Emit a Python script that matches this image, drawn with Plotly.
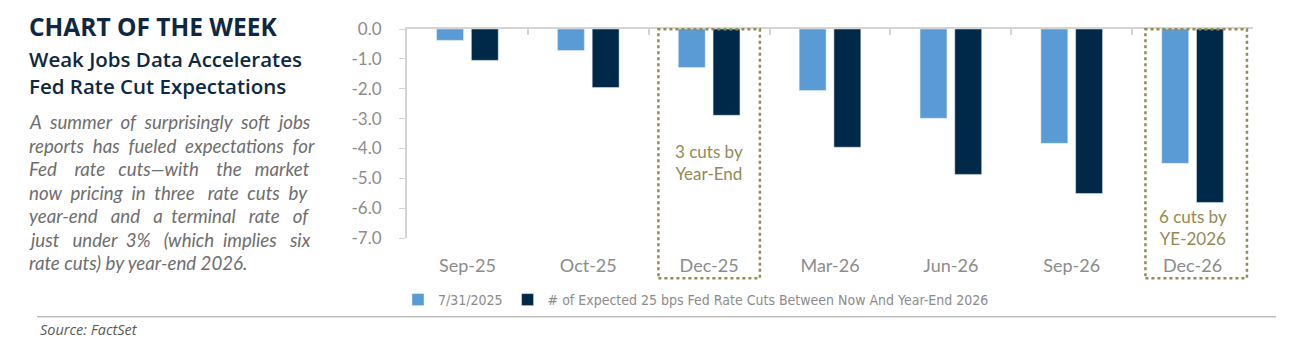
import plotly.graph_objects as go

categories = ["Sep-25", "Oct-25", "Dec-25", "Mar-26", "Jun-26", "Sep-26", "Dec-26"]
series_0731 = [-0.38, -0.72, -1.29, -2.06, -2.99, -3.83, -4.50]
series_now = [-1.05, -1.96, -2.89, -3.96, -4.87, -5.51, -5.81]
y_ticks = [0, -1, -2, -3, -4, -5, -6, -7]
y_tick_text = ["0.0", "-1.0", "-2.0", "-3.0", "-4.0", "-5.0", "-6.0", "-7.0"]
name_0731 = "7/31/2025"
name_now = "# of Expected 25 bps Fed Rate Cuts Between Now And Year-End 2026"

W, H = 1291, 340
L, R, T, B = 407, 1253, 29, 238


def px(x):
    return (x - L) / (R - L)


def py(y):
    return (B - y) / (B - T)


LIGHT = "#5B9BD5"
DARK = "#002849"
GRAY = "#8C8C8C"
AXIS = "#D4D4D4"
OLIVE = "#948A54"
NAVY = "#0E2841"
CHART_FONT = "Lato"

fig = go.Figure()
fig.add_trace(go.Bar(x=categories, y=series_0731, name=name_0731, marker_color=LIGHT))
fig.add_trace(go.Bar(x=categories, y=series_now, name=name_now, marker_color=DARK))

fig.update_layout(
    width=W, height=H,
    margin=dict(l=L, r=W - R, t=T, b=H - B),
    paper_bgcolor="white", plot_bgcolor="white",
    barmode="group", bargap=0.425, bargroupgap=0.226,
    font=dict(family=CHART_FONT, color=GRAY, size=17),
    xaxis=dict(showline=False, ticks="", showgrid=False, zeroline=False,
               tickfont=dict(size=18, color=GRAY), ticklabelstandoff=15),
    xaxis2=dict(overlaying="x", anchor="y", side="top",
                range=[-0.5, 6.5], showline=True, linecolor=AXIS, linewidth=2,
                ticks="inside", ticklen=6, tickcolor=AXIS, tickwidth=1.5,
                tickvals=[i - 0.5 for i in range(8)], showticklabels=False,
                showgrid=False, zeroline=False),
    yaxis=dict(range=[-7, 0], tickvals=y_ticks, ticktext=y_tick_text,
               showline=True, linecolor=AXIS, linewidth=2, ticks="outside",
               ticklen=6, tickcolor=AXIS, showgrid=False, zeroline=False,
               tickfont=dict(size=17, color=GRAY), ticklabelstandoff=14),
    legend=dict(orientation="h", x=px(398), y=py(300), yanchor="middle", xanchor="left",
                font=dict(size=14, color=GRAY, family="DejaVu Sans Condensed, Liberation Sans Narrow, " + CHART_FONT),
                bgcolor="rgba(0,0,0,0)", itemwidth=30, traceorder="normal"),
    showlegend=True,
)

# invisible trace to activate xaxis2
fig.add_trace(go.Scatter(x=[0], y=[0], xaxis="x2", mode="markers",
                         marker=dict(opacity=0), showlegend=False, hoverinfo="skip"))

# dashed highlight boxes
for x0, x1 in [(1.58, 2.42), (5.61, 6.45)]:
    fig.add_shape(type="rect", xref="x", yref="paper", x0=x0, x1=x1,
                  y0=py(278.3), y1=py(29.3), line=dict(color=OLIVE, width=2.5, dash="dot"),
                  fillcolor="rgba(0,0,0,0)", layer="above")

fig.add_annotation(x=2, y=-4.46, xref="x", yref="y", text="3 cuts by<br>Year-End",
                   showarrow=False, font=dict(size=17, color=OLIVE, family=CHART_FONT))
fig.add_annotation(x=6, y=-6.66, xref="x", yref="y", text="6 cuts by<br>YE-2026",
                   showarrow=False, font=dict(size=17, color=OLIVE, family=CHART_FONT))

# left text block
fig.add_annotation(xref="paper", yref="paper", x=px(27), y=py(27), xanchor="left", yanchor="middle",
                   text="<b>CHART OF THE WEEK</b>", showarrow=False,
                   font=dict(family="Open Sans", size=24.5, color=NAVY))
fig.add_annotation(xref="paper", yref="paper", x=px(27), y=py(72), xanchor="left", yanchor="middle",
                   text="Weak Jobs Data Accelerates<br>Fed Rate Cut Expectations", showarrow=False,
                   align="left", font=dict(family="Open Sans", size=20.5, color=NAVY, weight=600))
body_lines = [
    "A summer of surprisingly soft jobs",
    "reports has fueled expectations for",
    "Fed rate cuts\u2014with the market",
    "now pricing in three rate cuts by",
    "year-end and a terminal rate of",
    "just under 3% (which implies six",
    "rate cuts) by year-end 2026.",
]
extra_spaces = [
    [1, 1, 1, 1, 1],
    [1, 1, 1, 1],
    [3, 2, 3, 2],
    [1, 1, 1, 2, 1, 1],
    [2, 2, 1, 2, 2],
    [2, 1, 2, 1, 2],
    [0, 0, 0, 0],
]
for i, line in enumerate(body_lines):
    words = line.split(" ")
    txt = words[0]
    for w, n in zip(words[1:], extra_spaces[i]):
        txt += " " + "\u00a0" * n + w
    fig.add_annotation(xref="paper", yref="paper", x=px(27), y=py(122 + i * 23.5),
                       xanchor="left", yanchor="middle", text="<i>" + txt + "</i>",
                       showarrow=False, font=dict(family="Lato", size=18.7, color="#6E6E6E"))

# separator line and source
fig.add_shape(type="line", xref="paper", yref="paper", x0=px(37), x1=px(1276),
              y0=py(316.7), y1=py(316.7), line=dict(color="#BFBFBF", width=1.5))
fig.add_annotation(xref="paper", yref="paper", x=px(38), y=py(329), xanchor="left", yanchor="middle",
                   text="<i>Source: FactSet</i>", showarrow=False,
                   font=dict(family="Open Sans", size=14.5, color="#595959"))

fig.write_html("out.html")
